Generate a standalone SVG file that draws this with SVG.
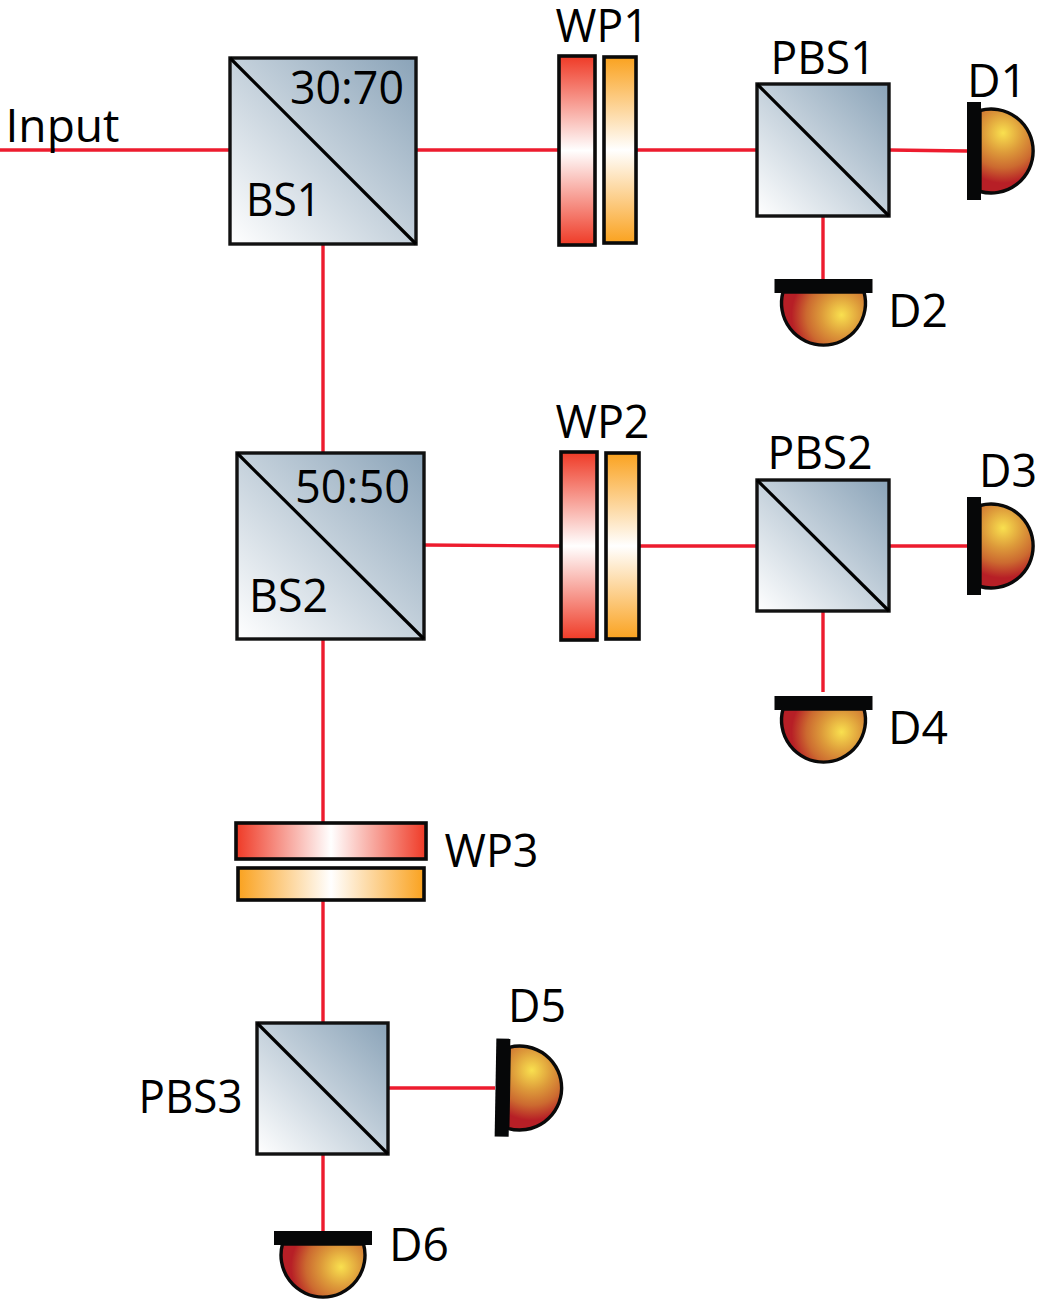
<svg xmlns="http://www.w3.org/2000/svg" width="1039" height="1299" viewBox="0 0 1039 1299">
<style>
.cube{fill:url(#cube);stroke:#111;stroke-width:3.4}
.diag{stroke:#000;stroke-width:3.2;fill:none}
.beam{stroke:#ed1c2e;stroke-width:3.4;fill:none}
.red{stroke:#0a0a0a;stroke-width:3.6}
.t{font-family:"Open Sans","Noto Sans",sans-serif;font-size:46px;fill:#000}
</style>
<defs>
<linearGradient id="cube" x1="0" y1="1" x2="1" y2="0"><stop offset="0" stop-color="#fff"/><stop offset="1" stop-color="#8aa3b8"/></linearGradient>
<linearGradient id="rv" x1="0" y1="0" x2="0" y2="1"><stop offset="0" stop-color="#ef3a26"/><stop offset=".5" stop-color="#fff"/><stop offset="1" stop-color="#ef3a26"/></linearGradient>
<linearGradient id="ov" x1="0" y1="0" x2="0" y2="1"><stop offset="0" stop-color="#faa21f"/><stop offset=".5" stop-color="#fff"/><stop offset="1" stop-color="#faa21f"/></linearGradient>
<linearGradient id="rh" x1="0" y1="0" x2="1" y2="0"><stop offset="0" stop-color="#ef3a26"/><stop offset=".5" stop-color="#fff"/><stop offset="1" stop-color="#ef3a26"/></linearGradient>
<linearGradient id="oh" x1="0" y1="0" x2="1" y2="0"><stop offset="0" stop-color="#faa21f"/><stop offset=".5" stop-color="#fff"/><stop offset="1" stop-color="#faa21f"/></linearGradient>
<radialGradient id="dome" gradientUnits="userSpaceOnUse" cx="12" cy="-18" r="50" fx="12" fy="-18"><stop offset="0" stop-color="#f9e04f"/><stop offset=".4" stop-color="#dd9a3a"/><stop offset=".7" stop-color="#cc6a30"/><stop offset="1" stop-color="#b71f26"/></radialGradient>
<g id="det"><path d="M-11,-40.5 A42,42 0 1 1 -11,40.5 Z" fill="url(#dome)" stroke="#0a0a0a" stroke-width="3.4"/><rect x="-24" y="-49" width="14" height="98" fill="#060708"/></g>
</defs>
<g id="connectors">
<path class="beam" d="M0,150H230M416,150H559M637,150H757M889,150L967,151M323,244V453M823,216V279M424,545L561,546M638,546H757M889,546H967M823,611V692M323,639V822M323,900V1023M388,1088H495M323,1154V1231"/>
</g>
<g id="BS1"><rect class="cube" x="230" y="58" width="186" height="186"/><path class="diag" d="M230,58L416,244"/><text class="t" x="290" y="104" textLength="114" lengthAdjust="spacingAndGlyphs">30:70</text><text class="t" x="246" y="216" textLength="75" lengthAdjust="spacingAndGlyphs">BS1</text></g>
<g id="BS2"><rect class="cube" x="237" y="453" width="187" height="186"/><path class="diag" d="M237,453L424,639"/><text class="t" x="295" y="503" textLength="115" lengthAdjust="spacingAndGlyphs">50:50</text><text class="t" x="249" y="612" textLength="79" lengthAdjust="spacingAndGlyphs">BS2</text></g>
<g id="WP1"><rect class="red" x="559" y="56" width="36" height="189" fill="url(#rv)"/><rect class="red" x="604" y="57" width="32" height="186" fill="url(#ov)"/><text class="t" x="555.5" y="42" textLength="93" lengthAdjust="spacingAndGlyphs">WP1</text></g>
<g id="WP2"><rect class="red" x="561" y="452" width="36" height="188" fill="url(#rv)"/><rect class="red" x="606" y="453" width="33" height="186" fill="url(#ov)"/><text class="t" x="555.5" y="438" textLength="94" lengthAdjust="spacingAndGlyphs">WP2</text></g>
<g id="WP3"><rect class="red" x="236" y="823" width="190" height="36" fill="url(#rh)"/><rect class="red" x="238" y="868" width="186" height="32" fill="url(#oh)"/><text class="t" x="444.5" y="867" textLength="94" lengthAdjust="spacingAndGlyphs">WP3</text></g>
<g id="PBS1"><rect class="cube" x="757" y="84" width="132" height="132"/><path class="diag" d="M757,84L889,216"/><text class="t" x="770.5" y="74" textLength="105" lengthAdjust="spacingAndGlyphs">PBS1</text></g>
<g id="PBS2"><rect class="cube" x="757" y="480" width="132" height="131"/><path class="diag" d="M757,480L889,611"/><text class="t" x="767.5" y="469" textLength="105" lengthAdjust="spacingAndGlyphs">PBS2</text></g>
<g id="PBS3"><rect class="cube" x="257" y="1023" width="131" height="131"/><path class="diag" d="M257,1023L388,1154"/><text class="t" x="138.5" y="1113" textLength="104" lengthAdjust="spacingAndGlyphs">PBS3</text></g>
<g id="D1"><use href="#det" transform="translate(991,151)"/><text class="t" x="967" y="97" textLength="60" lengthAdjust="spacingAndGlyphs">D1</text></g>
<g id="D2"><use href="#det" transform="translate(823.5,303)rotate(90)"/><text class="t" x="888" y="327" textLength="60" lengthAdjust="spacingAndGlyphs">D2</text></g>
<g id="D3"><use href="#det" transform="translate(991,546)"/><text class="t" x="979" y="487" textLength="58" lengthAdjust="spacingAndGlyphs">D3</text></g>
<g id="D4"><use href="#det" transform="translate(823.5,720)rotate(90)"/><text class="t" x="888" y="744" textLength="60" lengthAdjust="spacingAndGlyphs">D4</text></g>
<g id="D5"><use href="#det" transform="translate(519.5,1088)rotate(1)"/><text class="t" x="508" y="1022" textLength="58" lengthAdjust="spacingAndGlyphs">D5</text></g>
<g id="D6"><use href="#det" transform="translate(323,1255)rotate(90)"/><text class="t" x="389" y="1261" textLength="60" lengthAdjust="spacingAndGlyphs">D6</text></g>
<text id="Input" class="t" x="5.5" y="142" textLength="114" lengthAdjust="spacingAndGlyphs">Input</text>
</svg>
